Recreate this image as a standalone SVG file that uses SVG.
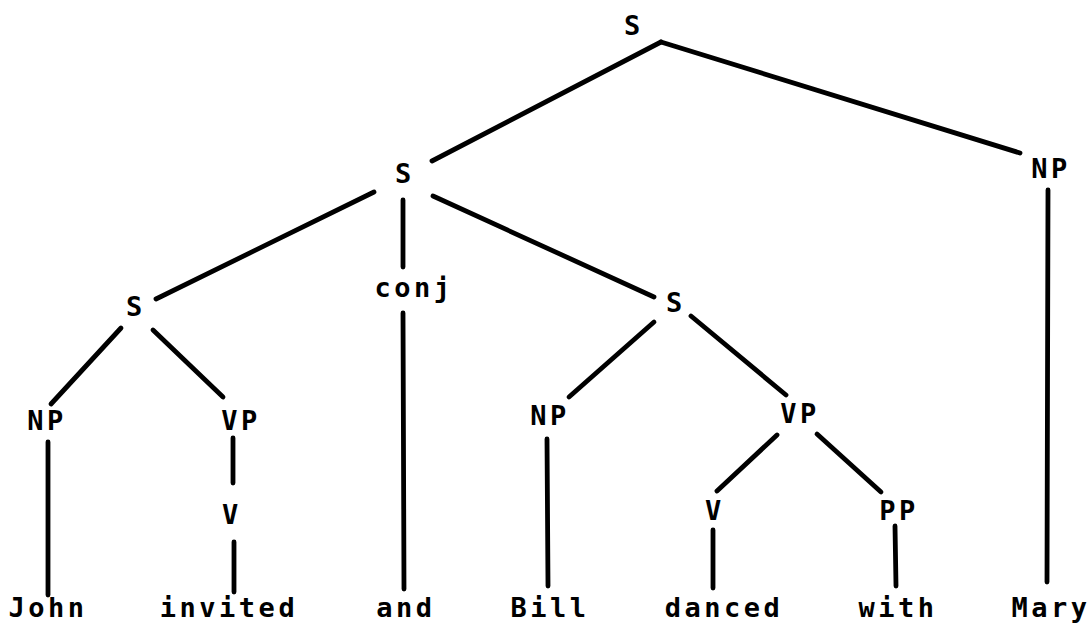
<svg xmlns="http://www.w3.org/2000/svg" width="1092" height="624" viewBox="0 0 1092 624">
<style>
.lbl{font-family:"DejaVu Sans Mono","Liberation Mono",monospace;font-size:27px;font-weight:bold;letter-spacing:3.5px;text-anchor:middle;fill:#000}
.e{stroke:#000;stroke-width:4.8;stroke-linecap:round;fill:none}
</style>
<rect width="1092" height="624" fill="#fff"/>
<g id="connectors">
<line class="e" x1="661" y1="42" x2="432" y2="161"/>
<line class="e" x1="661" y1="42" x2="1020" y2="153"/>
<line class="e" x1="374" y1="192" x2="156" y2="299"/>
<line class="e" x1="403" y1="200" x2="403" y2="267"/>
<line class="e" x1="433" y1="196" x2="654" y2="297"/>
<line class="e" x1="1048" y1="190" x2="1047" y2="582"/>
<line class="e" x1="403" y1="313" x2="404" y2="589"/>
<line class="e" x1="121" y1="328" x2="51" y2="404"/>
<line class="e" x1="153" y1="330" x2="223" y2="397"/>
<line class="e" x1="48" y1="442" x2="48" y2="595"/>
<line class="e" x1="233" y1="438" x2="233" y2="483"/>
<line class="e" x1="234" y1="542" x2="234" y2="592"/>
<line class="e" x1="654" y1="322" x2="569" y2="397"/>
<line class="e" x1="691" y1="316" x2="786" y2="395"/>
<line class="e" x1="547" y1="439" x2="548" y2="586"/>
<line class="e" x1="777" y1="435" x2="717" y2="491"/>
<line class="e" x1="817" y1="434" x2="881" y2="492"/>
<line class="e" x1="713" y1="530" x2="713" y2="588"/>
<line class="e" x1="895" y1="526" x2="896" y2="586"/>
</g>
<g id="n_s_top"><text class="lbl" x="634" y="35">S</text></g>
<g id="n_s2"><text class="lbl" x="405" y="183">S</text></g>
<g id="n_np_r"><text class="lbl" x="1051" y="178">NP</text></g>
<g id="n_conj"><text class="lbl" x="414" y="297">conj</text></g>
<g id="n_s3"><text class="lbl" x="136" y="316">S</text></g>
<g id="n_s4"><text class="lbl" x="676" y="312">S</text></g>
<g id="n_np_l"><text class="lbl" x="47" y="430">NP</text></g>
<g id="n_vp_l"><text class="lbl" x="241" y="430">VP</text></g>
<g id="n_v_l"><text class="lbl" x="232" y="524">V</text></g>
<g id="n_np_m"><text class="lbl" x="550" y="425">NP</text></g>
<g id="n_vp_m"><text class="lbl" x="800" y="423">VP</text></g>
<g id="n_v_m"><text class="lbl" x="715" y="520">V</text></g>
<g id="n_pp"><text class="lbl" x="899" y="520">PP</text></g>
<g id="w_john"><text class="lbl" x="48" y="617">John</text></g>
<g id="w_invited"><text class="lbl" x="229" y="617">invited</text></g>
<g id="w_and"><text class="lbl" x="406" y="617">and</text></g>
<g id="w_bill"><text class="lbl" x="550" y="617">Bill</text></g>
<g id="w_danced"><text class="lbl" x="724" y="617">danced</text></g>
<g id="w_with"><text class="lbl" x="898" y="617">with</text></g>
<g id="w_mary"><text class="lbl" x="1051" y="617">Mary</text></g>
</svg>
